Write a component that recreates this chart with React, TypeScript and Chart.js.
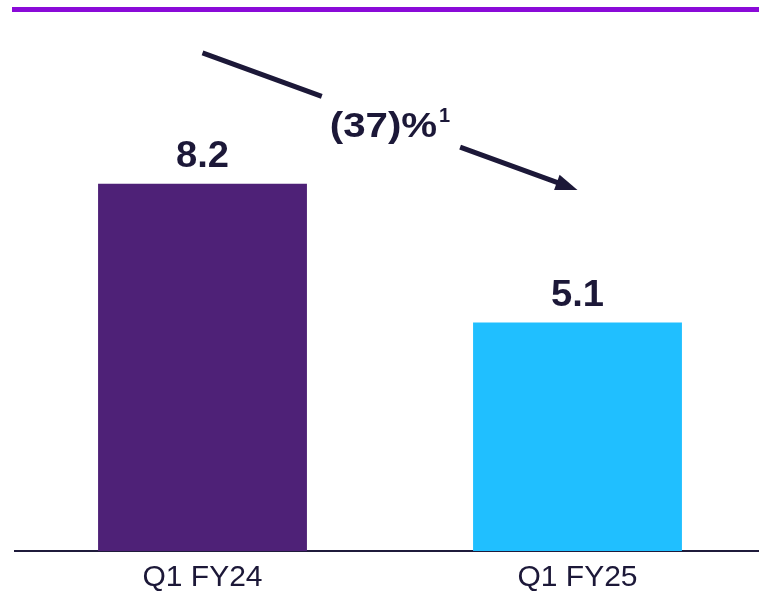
import React, { useEffect, useRef } from "react";
import { Chart, registerables } from "chart.js";

Chart.register(...registerables);

const categories: string[] = ["Q1 FY24", "Q1 FY25"];
const values: number[] = [8.2, 5.1];
const valueLabels: string[] = ["8.2", "5.1"];
const barColors: string[] = ["#4e2177", "#20bfff"];
const changeLabel = "(37)%";
const changeFootnote = "1";
// arrow anchored on the two categories, in y-value units
const arrowFrom: number[] = [0, 11.12];
const arrowTo: number[] = [1, 8.06];

const TEXT = "#1c1838";
const FONT = "'Liberation Sans', Arial, sans-serif";

const decorPlugin = {
  id: "decor",
  afterDatasetsDraw(chart: any) {
    const { ctx, scales, width } = chart;
    const xs = scales.x;
    const ys = scales.y;
    ctx.save();
    // top purple rule
    ctx.fillStyle = "#8a0ad8";
    ctx.fillRect(12, 7, width - 12, 5);

    // value labels
    ctx.fillStyle = TEXT;
    ctx.textAlign = "center";
    ctx.textBaseline = "alphabetic";
    ctx.font = `bold 36px ${FONT}`;
    values.forEach((v, i) => {
      const x = xs.getPixelForValue(i);
      const y = ys.getPixelForValue(v) - 17;
      ctx.save();
      ctx.translate(x, y);
      ctx.scale(1.06, 1);
      ctx.fillText(valueLabels[i], 0, 0);
      ctx.restore();
    });

    // arrow
    const x0 = xs.getPixelForValue(arrowFrom[0]);
    const y0 = ys.getPixelForValue(arrowFrom[1]);
    const x1 = xs.getPixelForValue(arrowTo[0]);
    const y1 = ys.getPixelForValue(arrowTo[1]);
    const dx = x1 - x0;
    const dy = y1 - y0;
    const len = Math.hypot(dx, dy);
    const ux = dx / len;
    const uy = dy / len;
    const headLen = 22;
    const headHalf = 8;
    const pt = (t: number) => [x0 + dx * t, y0 + dy * t];
    ctx.strokeStyle = TEXT;
    ctx.lineWidth = 5;
    ctx.lineCap = "butt";
    const a = pt(0);
    const b = pt(0.318);
    const c = pt(0.687);
    ctx.beginPath();
    ctx.moveTo(a[0], a[1]);
    ctx.lineTo(b[0], b[1]);
    ctx.moveTo(c[0], c[1]);
    ctx.lineTo(x1 - ux * headLen * 0.8, y1 - uy * headLen * 0.8);
    ctx.stroke();
    const bx = x1 - ux * headLen;
    const by = y1 - uy * headLen;
    ctx.fillStyle = TEXT;
    ctx.beginPath();
    ctx.moveTo(x1, y1);
    ctx.lineTo(bx - uy * headHalf, by + ux * headHalf);
    ctx.lineTo(bx + uy * headHalf, by - ux * headHalf);
    ctx.closePath();
    ctx.fill();

    // change label
    const m = pt(0.5);
    ctx.font = `bold 35px ${FONT}`;
    const mainW = ctx.measureText(changeLabel).width * 1.15;
    ctx.font = `bold 20px ${FONT}`;
    const supW = ctx.measureText(changeFootnote).width;
    const total = mainW + 2 + supW;
    const left = m[0] - total / 2;
    const base = m[1] + 16;
    ctx.textAlign = "left";
    ctx.save();
    ctx.translate(left, base);
    ctx.scale(1.15, 1);
    ctx.font = `bold 35px ${FONT}`;
    ctx.fillText(changeLabel, 0, 0);
    ctx.restore();
    ctx.font = `bold 20px ${FONT}`;
    ctx.fillText(changeFootnote, left + mainW + 2, base - 15);
    ctx.restore();
  },
};

export default function App() {
  const ref = useRef<HTMLCanvasElement | null>(null);
  useEffect(() => {
    if (!ref.current) return;
    const chart = new Chart(ref.current, {
      type: "bar",
      data: {
        labels: categories,
        datasets: [
          {
            data: values,
            backgroundColor: barColors,
            borderWidth: 0,
            barPercentage: 0.557,
            categoryPercentage: 1,
          },
        ],
      },
      options: {
        animation: false,
        responsive: false,
        maintainAspectRatio: false,
        layout: { padding: { left: 15, right: 15, top: 0, bottom: 1 } },
        plugins: {
          legend: { display: false },
          tooltip: { enabled: false },
          title: { display: false },
        },
        scales: {
          x: {
            grid: { display: false, drawTicks: false },
            border: { display: true, color: "#1f1b3b", width: 2 },
            ticks: {
              color: TEXT,
              padding: 9,
              font: { family: FONT, size: 30 },
            },
          },
          y: {
            display: false,
            min: 0,
            max: 12.3,
            grid: { display: false },
          },
        },
      },
      plugins: [decorPlugin],
    });
    return () => chart.destroy();
  }, []);
  return (
    <div
      style={{
        position: "absolute",
        left: 0,
        top: 0,
        width: 759,
        height: 596,
        overflow: "hidden",
        background: "#ffffff",
      }}
    >
      <canvas ref={ref} width={780} height={606} style={{ display: "block", width: 780, height: 606 }} />
    </div>
  );
}
